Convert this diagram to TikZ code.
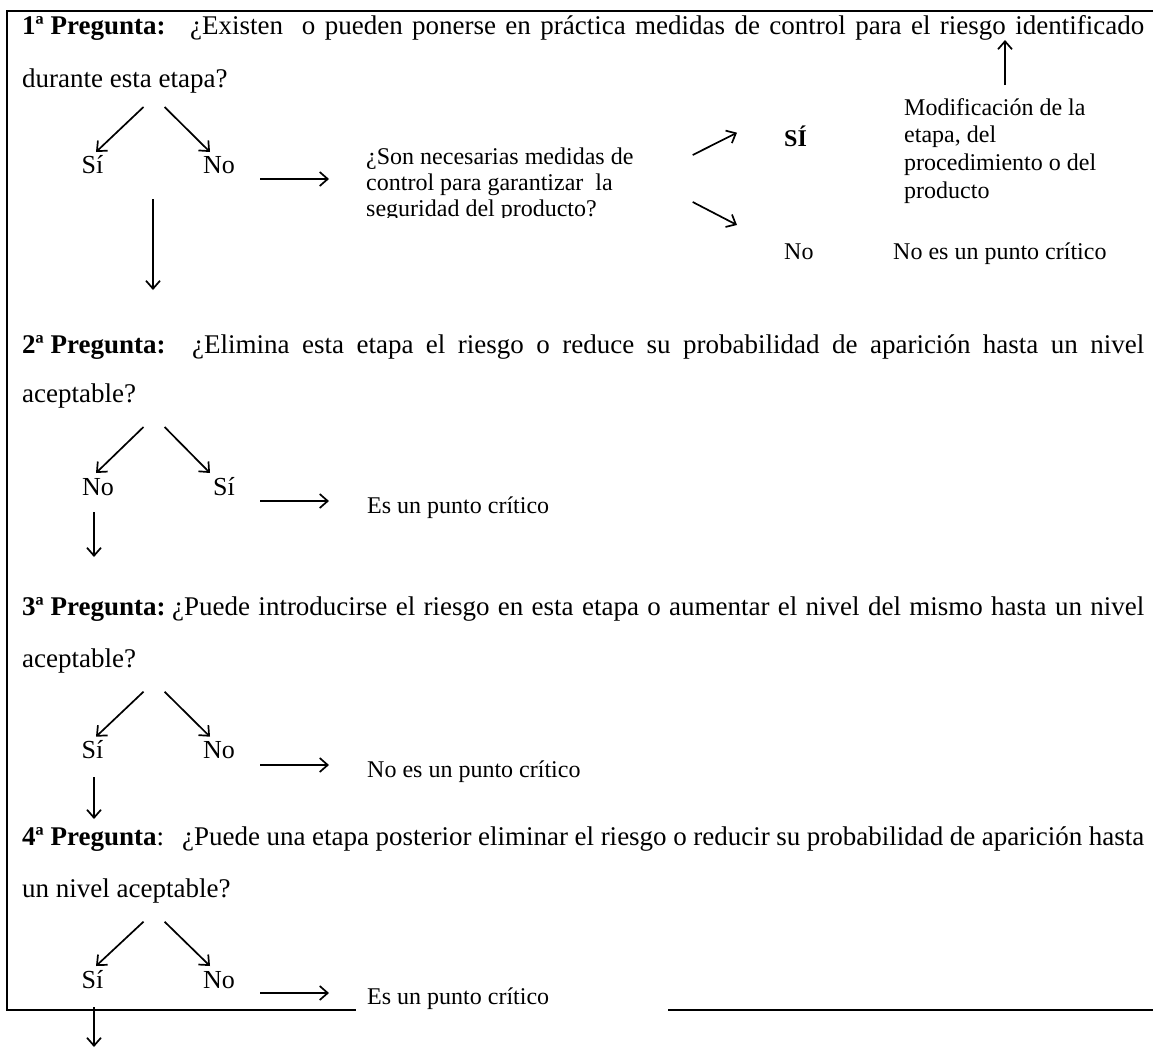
\documentclass[tikz,border=0pt]{standalone}
\usepackage{fontspec}
\setmainfont{Liberation Serif}
\usetikzlibrary{arrows.meta}
\tikzset{
  txt/.style={inner sep=0pt, anchor=base west, font=\fontsize{27}{31}\selectfont},
  sml/.style={inner sep=0pt, anchor=base west, font=\fontsize{24}{27}\selectfont},
  lbl/.style={inner sep=0pt, anchor=base, font=\fontsize{26}{30}\selectfont},
  arr/.style={line width=1.7pt, -{Straight Barb[length=8pt,width=14pt,line width=1.7pt]}},
  frame/.style={line width=2.6pt}
}
\begin{document}
\begin{tikzpicture}[x=1pt,y=-1pt]
\useasboundingbox (0,0) rectangle (1153,1049);
% frame
\coordinate (tl) at (6,11);
\coordinate (tr) at (1153,11);
\coordinate (lt) at (7,11);
\coordinate (lb) at (7,1010);
\coordinate (b1) at (6,1010);
\coordinate (b2) at (356,1010);
\coordinate (b3) at (668,1010);
\coordinate (b4) at (1153,1010);
\draw[frame] (tl) -- (tr);
\draw[frame] (lt) -- (lb);
\draw[frame] (b1) -- (b2);
\draw[frame] (b3) -- (b4);

% ---------- Question 1
\node[txt] (q1p) at (22,35) {\textbf{1ª Pregunta:}};
\node[txt] (q1a) at (190,35) {\makebox[954pt][s]{¿Existen\ \ o pueden ponerse en práctica medidas de control para el riesgo identificado}};
\node[txt] (q1b) at (22,87) {durante esta etapa?};
\coordinate (q1t1) at (143.5,107); \coordinate (q1h1) at (96,152);
\coordinate (q1t2) at (164.6,107); \coordinate (q1h2) at (210,152);
\draw[arr] (q1t1) -- (q1h1);
\draw[arr] (q1t2) -- (q1h2);
\node[lbl] (si1) at (92.5,173) {Sí};
\node[lbl] (no1) at (219,173) {No};
\coordinate (r1s) at (260,179); \coordinate (r1e) at (329,179);
\draw[arr] (r1s) -- (r1e);
\coordinate (d1s) at (153,199); \coordinate (d1e) at (153,290);
\draw[arr] (d1s) -- (d1e);
\node[sml] (c1) at (366,164) {¿Son necesarias medidas de};
\node[sml] (c2) at (366,190) {control para garantizar\ \ la};
\begin{scope}
  \clip (360,150) rectangle (720,217.5);
  \node[sml] (c3) at (366,216) {seguridad del producto?};
\end{scope}
\coordinate (u1s) at (692.7,155); \coordinate (u1e) at (737,132.7);
\coordinate (u2s) at (692.7,202); \coordinate (u2e) at (737,225);
\draw[arr] (u1s) -- (u1e);
\draw[arr] (u2s) -- (u2e);
\node[sml] (si1b) at (784,146.7) {\textbf{SÍ}};
\node[sml] (m1) at (904,115) {Modificación de la};
\node[sml] (m2) at (904,142.7) {etapa, del};
\node[sml] (m3) at (904,170.4) {procedimiento o del};
\node[sml] (m4) at (904,198) {producto};
\coordinate (ups) at (1005,85); \coordinate (upe) at (1005,40);
\draw[arr] (ups) -- (upe);
\node[sml] (no1b) at (784,259) {No};
\node[sml] (npc1) at (893,259) {No es un punto crítico};

% ---------- Question 2
\node[txt] (q2p) at (22,353) {\textbf{2ª Pregunta:}};
\node[txt] (q2a) at (192,353) {\makebox[952pt][s]{¿Elimina esta etapa el riesgo o reduce su probabilidad de aparición hasta un nivel}};
\node[txt] (q2b) at (22,402) {aceptable?};
\coordinate (q2t1) at (143.5,427); \coordinate (q2h1) at (96,473);
\coordinate (q2t2) at (164.6,427); \coordinate (q2h2) at (210,473);
\draw[arr] (q2t1) -- (q2h1);
\draw[arr] (q2t2) -- (q2h2);
\node[lbl] (no2) at (98,495) {No};
\node[lbl] (si2) at (224,495) {Sí};
\coordinate (r2s) at (260,501); \coordinate (r2e) at (329,501);
\draw[arr] (r2s) -- (r2e);
\node[sml] (pc2) at (367,513) {Es un punto crítico};
\coordinate (d2s) at (94,512); \coordinate (d2e) at (94,557);
\draw[arr] (d2s) -- (d2e);

% ---------- Question 3
\node[txt] (q3p) at (22,615) {\textbf{3ª Pregunta:}};
\node[txt] (q3a) at (172,615) {\makebox[972pt][s]{¿Puede introducirse el riesgo en esta etapa o aumentar el nivel del mismo hasta un nivel}};
\node[txt] (q3b) at (22,667) {aceptable?};
\coordinate (q3t1) at (143.5,691.7); \coordinate (q3h1) at (96,736.7);
\coordinate (q3t2) at (164.6,691.7); \coordinate (q3h2) at (210,736.7);
\draw[arr] (q3t1) -- (q3h1);
\draw[arr] (q3t2) -- (q3h2);
\node[lbl] (si3) at (92.5,758) {Sí};
\node[lbl] (no3) at (219,758) {No};
\coordinate (r3s) at (260,765); \coordinate (r3e) at (329,765);
\draw[arr] (r3s) -- (r3e);
\node[sml] (npc3) at (367,777) {No es un punto crítico};
\coordinate (d3s) at (94,777); \coordinate (d3e) at (94,819);
\draw[arr] (d3s) -- (d3e);

% ---------- Question 4
\node[txt] (q4p) at (22,845) {\textbf{4ª Pregunta}:};
\node[txt] (q4a) at (182,845) {\makebox[962pt][s]{¿Puede una etapa posterior eliminar el riesgo o reducir su probabilidad de aparición hasta}};
\node[txt] (q4b) at (22,897) {un nivel aceptable?};
\coordinate (q4t1) at (143.5,921.7); \coordinate (q4h1) at (96,966);
\coordinate (q4t2) at (164.6,921.7); \coordinate (q4h2) at (210,966);
\draw[arr] (q4t1) -- (q4h1);
\draw[arr] (q4t2) -- (q4h2);
\node[lbl] (si4) at (92.5,988) {Sí};
\node[lbl] (no4) at (219,988) {No};
\coordinate (r4s) at (260,993); \coordinate (r4e) at (329,993);
\draw[arr] (r4s) -- (r4e);
\node[sml] (pc4) at (367,1004) {Es un punto crítico};
\coordinate (d4s) at (94,1007); \coordinate (d4e) at (94,1047);
\draw[arr] (d4s) -- (d4e);
\end{tikzpicture}
\end{document}
